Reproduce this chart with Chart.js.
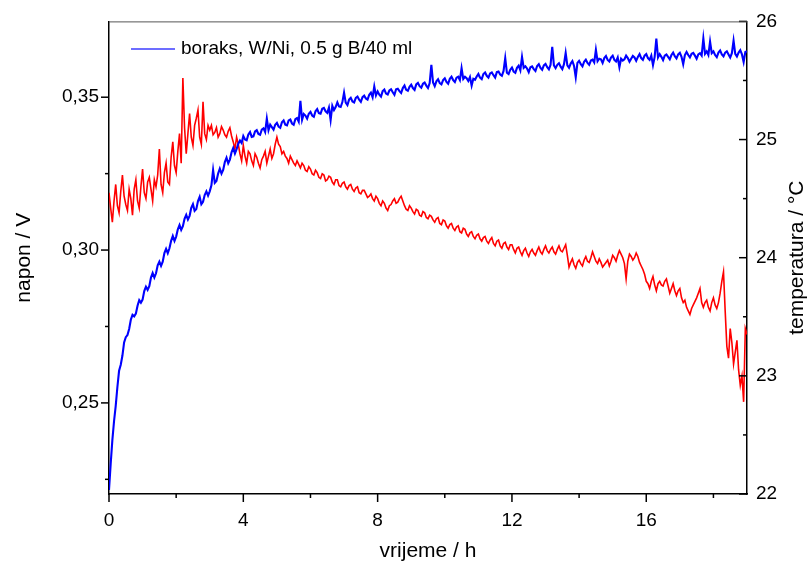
<!DOCTYPE html>
<html>
<head>
<meta charset="utf-8">
<script src="https://cdn.jsdelivr.net/npm/chart.js@4"></script>
<style>
  html, body { margin: 0; background: #fff; }
  #wrap { width: 810px; height: 564px; }
</style>
</head>
<body>
<div id="wrap"><canvas id="c" width="810" height="564"></canvas></div>
<script>
// ---- podaci (očitano sa slike) ---------------------------------------------
const stepH = 0.05;                // razmak uzoraka u satima, od 0 do 19 h
const seriesLabel = "boraks, W/Ni, 0.5 g B/40 ml";

// napon / V (lijeva os), plava — jedan red = jedan sat
const napon = [
  0.2215,0.2300,0.2378,0.2440,0.2490,0.2552,0.2605,0.2625,0.2655,0.2698,0.2715,0.2722,0.2742,0.2772,0.2788,0.2783,0.2792,0.2818,0.2836,0.2828,
  0.2838,0.2866,0.2880,0.2870,0.2882,0.2910,0.2925,0.2910,0.2924,0.2950,0.2962,0.2948,0.2962,0.2990,0.3004,0.2990,0.3006,0.3030,0.3046,0.3030,
  0.3044,0.3068,0.3082,0.3066,0.3078,0.3102,0.3115,0.3100,0.3112,0.3138,0.3150,0.3128,0.3134,0.3160,0.3174,0.3150,0.3158,0.3180,0.3192,0.3178,
  0.3192,0.3212,0.3262,0.3220,0.3226,0.3250,0.3266,0.3250,0.3262,0.3288,0.3302,0.3284,0.3296,0.3320,0.3334,0.3316,0.3330,0.3348,0.3358,0.3350,
  0.3373,0.3362,0.3359,0.3378,0.3386,0.3370,0.3372,0.3388,0.3392,0.3380,0.3377,0.3394,0.3398,0.3386,0.3430,0.3392,0.3410,0.3402,0.3394,0.3410,
  0.3416,0.3404,0.3400,0.3418,0.3424,0.3410,0.3408,0.3424,0.3427,0.3414,0.3410,0.3428,0.3432,0.3420,0.3488,0.3426,0.3445,0.3440,0.3430,0.3446,
  0.3452,0.3440,0.3436,0.3454,0.3461,0.3448,0.3446,0.3462,0.3465,0.3454,0.3449,0.3466,0.3425,0.3472,0.3458,0.3468,0.3483,0.3470,0.3468,0.3484,
  0.3515,0.3482,0.3474,0.3492,0.3498,0.3486,0.3483,0.3498,0.3502,0.3492,0.3485,0.3500,0.3505,0.3496,0.3492,0.3508,0.3515,0.3500,0.3535,0.3506,
  0.3519,0.3508,0.3502,0.3520,0.3525,0.3512,0.3509,0.3522,0.3526,0.3516,0.3508,0.3526,0.3528,0.3520,0.3514,0.3530,0.3538,0.3524,0.3521,0.3534,
  0.3541,0.3530,0.3524,0.3542,0.3547,0.3536,0.3531,0.3544,0.3548,0.3538,0.3530,0.3546,0.3606,0.3548,0.3536,0.3552,0.3559,0.3546,0.3542,0.3556,
  0.3562,0.3550,0.3544,0.3560,0.3567,0.3556,0.3550,0.3564,0.3567,0.3556,0.3595,0.3560,0.3567,0.3562,0.3553,0.3566,0.3538,0.3560,0.3557,0.3568,
  0.3576,0.3564,0.3559,0.3576,0.3581,0.3570,0.3564,0.3578,0.3581,0.3572,0.3564,0.3582,0.3584,0.3574,0.3570,0.3586,0.3628,0.3580,0.3576,0.3590,
  0.3597,0.3584,0.3580,0.3596,0.3603,0.3588,0.3632,0.3596,0.3601,0.3594,0.3582,0.3598,0.3601,0.3592,0.3586,0.3602,0.3608,0.3596,0.3590,0.3604,
  0.3609,0.3598,0.3591,0.3606,0.3665,0.3604,0.3595,0.3606,0.3611,0.3600,0.3592,0.3608,0.3645,0.3604,0.3596,0.3610,0.3618,0.3602,0.3565,0.3612,
  0.3619,0.3608,0.3601,0.3616,0.3623,0.3612,0.3606,0.3620,0.3623,0.3614,0.3655,0.3618,0.3626,0.3624,0.3612,0.3628,0.3635,0.3622,0.3617,0.3630,
  0.3636,0.3622,0.3617,0.3630,0.3598,0.3626,0.3620,0.3624,0.3636,0.3628,0.3616,0.3626,0.3635,0.3630,0.3619,0.3632,0.3641,0.3628,0.3622,0.3636,
  0.3641,0.3628,0.3622,0.3636,0.3605,0.3632,0.3692,0.3630,0.3641,0.3632,0.3621,0.3636,0.3640,0.3632,0.3624,0.3638,0.3646,0.3634,0.3627,0.3640,
  0.3645,0.3632,0.3608,0.3638,0.3648,0.3638,0.3630,0.3642,0.3645,0.3636,0.3626,0.3640,0.3644,0.3636,0.3692,0.3642,0.3650,0.3638,0.3682,0.3644,
  0.3650,0.3638,0.3631,0.3646,0.3653,0.3640,0.3634,0.3646,0.3650,0.3640,0.3630,0.3644,0.3685,0.3642,0.3633,0.3646,0.3654,0.3640,0.3615,0.3648,
  0.3650
];

// temperatura / °C (desna os), crvena — jedan red = jedan sat
const temperatura = [
  24.55,24.42,24.30,24.48,24.62,24.44,24.38,24.56,24.70,24.52,24.45,24.40,24.58,24.50,24.36,24.58,24.66,24.48,24.42,24.60,
  24.75,24.55,24.50,24.64,24.68,24.58,24.48,24.66,24.60,24.70,24.92,24.62,24.55,24.72,24.80,24.64,24.62,24.85,24.98,24.78,
  24.72,24.90,25.05,24.80,25.52,25.10,24.88,25.05,25.22,25.02,24.95,25.12,25.18,25.25,25.02,24.96,25.32,25.05,25.00,25.12,
  25.08,25.12,25.04,25.06,25.10,25.02,25.05,25.11,25.08,25.04,25.02,25.07,25.10,25.03,24.98,24.92,25.02,24.96,24.88,24.82,
  24.95,24.86,24.80,24.90,24.88,24.82,24.78,24.88,24.85,24.80,24.76,24.83,24.86,24.90,24.80,24.86,24.92,24.84,24.88,24.96,
  25.02,24.96,24.94,24.88,24.90,24.86,24.84,24.80,24.86,24.83,24.80,24.78,24.82,24.79,24.76,24.80,24.78,24.74,24.73,24.77,
  24.75,24.71,24.70,24.74,24.72,24.68,24.67,24.71,24.70,24.65,24.66,24.69,24.68,24.64,24.62,24.66,24.66,24.61,24.60,24.63,
  24.64,24.60,24.58,24.61,24.62,24.58,24.56,24.59,24.60,24.55,24.54,24.57,24.57,24.54,24.51,24.52,24.54,24.50,24.48,24.52,
  24.50,24.46,24.44,24.48,24.46,24.42,24.40,24.44,24.45,24.48,24.50,24.46,24.47,24.50,24.52,24.48,24.44,24.41,24.40,24.44,
  24.42,24.39,24.37,24.41,24.40,24.36,24.35,24.39,24.38,24.34,24.33,24.36,24.35,24.32,24.30,24.33,24.34,24.29,24.28,24.32,
  24.31,24.27,24.25,24.28,24.29,24.25,24.23,24.26,24.27,24.22,24.21,24.25,24.24,24.20,24.18,24.21,24.22,24.18,24.16,24.19,
  24.20,24.16,24.14,24.17,24.18,24.14,24.12,24.15,24.17,24.12,24.10,24.14,24.15,24.10,24.08,24.12,24.13,24.09,24.07,24.11,
  24.11,24.07,24.04,24.08,24.09,24.05,24.02,24.06,24.08,24.04,24.01,24.05,24.07,24.04,24.02,24.06,24.09,24.05,24.03,24.07,
  24.10,24.06,24.04,24.07,24.09,24.05,24.03,24.07,24.10,24.06,24.05,24.08,24.11,24.02,23.92,23.96,23.99,23.94,23.91,23.96,
  23.98,23.95,23.93,23.98,24.01,23.97,23.96,24.00,24.05,24.01,23.97,23.95,23.99,23.96,23.92,23.94,23.96,23.98,23.93,23.97,
  24.02,24.00,23.97,24.02,24.06,24.03,24.00,23.95,23.82,23.97,24.03,24.01,23.98,24.00,24.04,24.01,23.96,23.93,23.90,23.86,
  23.80,23.78,23.74,23.80,23.84,23.77,23.72,23.78,23.80,23.77,23.76,23.80,23.82,23.76,23.70,23.74,23.78,23.72,23.68,23.72,
  23.74,23.66,23.62,23.64,23.58,23.55,23.52,23.57,23.60,23.63,23.66,23.70,23.74,23.62,23.58,23.62,23.64,23.58,23.55,23.62,
  23.66,23.60,23.57,23.62,23.70,23.80,23.88,23.55,23.25,23.15,23.40,23.28,23.10,23.20,23.30,23.05,22.92,23.00,22.78,23.40,
  23.35
];

const xMax = 19, xStep = 4;
const vMin = 0.2202, vMax = 0.3748, vStep = 0.05;
const tMin = 22, tMax = 26, tStep = 1;

const FONT = "'Liberation Sans', Arial, sans-serif";
Chart.defaults.font.family = FONT;
Chart.defaults.color = "#000";

const toPts = arr => arr.map((v, i) => ({ x: +(i * stepH).toFixed(2), y: v }));

// ---- tick marks (lijevo i dolje prema van, desno prema unutra) + gornji rub --
const axisDeco = {
  id: "axisDeco",
  afterDraw(chart) {
    const { ctx, chartArea: a, scales } = chart;
    ctx.save();
    ctx.strokeStyle = "#000";
    ctx.lineWidth = 1.5;
    const major = 8, minor = 4;
    const line = (x1, y1, x2, y2) => { ctx.beginPath(); ctx.moveTo(x1, y1); ctx.lineTo(x2, y2); ctx.stroke(); };

    const sx = scales.x;
    for (let v = 0; v <= xMax; v += xStep / 2) {
      const px = sx.getPixelForValue(v);
      line(px, a.bottom, px, a.bottom + (v % xStep === 0 ? major : minor));
    }
    const sy = scales.y;
    for (let k = Math.ceil(vMin / (vStep / 2)); k * vStep / 2 <= vMax; k++) {
      const py = sy.getPixelForValue(k * vStep / 2);
      line(a.left - (k % 2 === 0 ? major : minor), py, a.left, py);
    }
    const sr = scales.y1;
    for (let v = tMin; v <= tMax; v += tStep / 2) {
      const py = sr.getPixelForValue(v);
      line(a.right - (v % tStep === 0 ? major : minor), py, a.right, py);
    }
    // gornji rub
    ctx.strokeStyle = "#555";
    ctx.lineWidth = 1;
    line(a.left, a.top + 0.5, a.right, a.top + 0.5);

    // naslov desne osi (čita se odozdo prema gore)
    ctx.fillStyle = "#000";
    ctx.font = "21px " + FONT;
    ctx.textAlign = "center";
    ctx.textBaseline = "middle";
    ctx.translate(chart.width - 13, (a.top + a.bottom) / 2);
    ctx.rotate(-Math.PI / 2);
    ctx.fillText("temperatura / °C", 0, 0);
    ctx.restore();

    // legenda unutar grafa
    const ds = chart.data.datasets[0];
    ctx.save();
    ctx.strokeStyle = "#3c3cff";
    ctx.lineWidth = 1.3;
    line(a.left + 22, 49, a.left + 66, 49);
    ctx.fillStyle = "#000";
    ctx.font = "19px " + FONT;
    ctx.textBaseline = "middle";
    ctx.fillText(ds.label, a.left + 72, 49);
    ctx.restore();
  }
};

new Chart(document.getElementById("c"), {
  type: "line",
  data: {
    datasets: [
      { label: seriesLabel, data: toPts(napon), yAxisID: "y",
        borderColor: "#0000ff", borderWidth: 2.1, pointRadius: 0, tension: 0 },
      { label: "temperatura", data: toPts(temperatura), yAxisID: "y1",
        borderColor: "#ff0000", borderWidth: 1.6, pointRadius: 0, tension: 0 }
    ]
  },
  options: {
    responsive: false,
    animation: false,
    events: [],
    layout: { padding: { top: 20, left: 0, right: 0, bottom: 0 } },
    plugins: { legend: { display: false }, tooltip: { enabled: false } },
    scales: {
      x: {
        type: "linear", min: 0, max: xMax,
        grid: { display: false, drawTicks: false },
        border: { display: true, color: "#000", width: 1.5 },
        ticks: { stepSize: xStep, includeBounds: false, padding: 15, font: { size: 19 }, color: "#000" },
        title: { display: true, text: "vrijeme / h", font: { size: 21 }, color: "#000", padding: { top: 0, bottom: 0 } },
        afterFit: s => { s.height = 70; }
      },
      y: {
        position: "left", min: vMin, max: vMax,
        grid: { display: false, drawTicks: false },
        border: { display: true, color: "#000", width: 1.5 },
        ticks: { stepSize: vStep, includeBounds: false, padding: 10, font: { size: 19 }, color: "#000",
                 callback: v => v.toFixed(2).replace(".", ",") },
        title: { display: true, text: "napon / V", font: { size: 21 }, color: "#000", padding: { top: 12, bottom: 0 } },
        afterFit: s => { s.width = 109; }
      },
      y1: {
        position: "right", min: tMin, max: tMax,
        grid: { display: false, drawTicks: false },
        border: { display: true, color: "#000", width: 1.5 },
        ticks: { stepSize: tStep, includeBounds: false, padding: 9, font: { size: 19 }, color: "#000" },
        afterFit: s => { s.width = 63; }
      }
    }
  },
  plugins: [axisDeco]
});
</script>
</body>
</html>
